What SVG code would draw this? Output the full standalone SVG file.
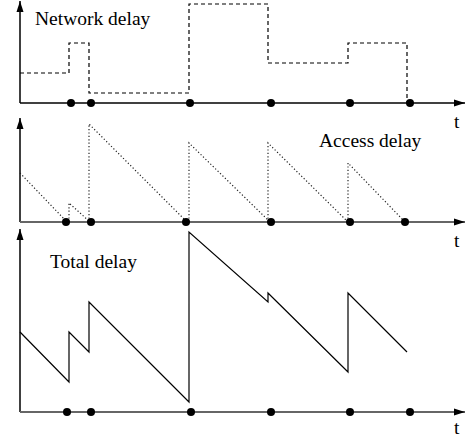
<svg xmlns="http://www.w3.org/2000/svg" width="466" height="438" viewBox="0 0 466 438">
<defs>
<marker id="ah" markerWidth="12" markerHeight="8" refX="11" refY="4" orient="auto" markerUnits="userSpaceOnUse">
<path d="M0,0.5 L11,4 L0,7.5 Z" fill="#000"/>
</marker>
</defs>
<style>
.ax{stroke:#000;stroke-width:1.5;fill:none}
.axg{stroke:#666;stroke-width:2;fill:none}
.dot{fill:#000}
.lbl{font-family:"Liberation Serif","Times New Roman",serif;font-size:19.5px;fill:#000}
.net{stroke:#000;stroke-width:1.2;fill:none;stroke-dasharray:4,3}
.acc{stroke:#222;stroke-width:1.2;fill:none;stroke-dasharray:1.2,2.2}
.tot{stroke:#000;stroke-width:1.2;fill:none}
</style>
<rect width="466" height="438" fill="#fff"/>
<g id="connectors">
<line class="ax" x1="20" y1="103" x2="20" y2="1" marker-end="url(#ah)"/>
<line class="ax" x1="20" y1="103" x2="465" y2="103" marker-end="url(#ah)"/>
<line class="ax" x1="20" y1="222" x2="20" y2="118" marker-end="url(#ah)"/>
<line class="axg" x1="20" y1="222" x2="465" y2="222" marker-end="url(#ah)"/>
<line class="ax" x1="20" y1="412" x2="20" y2="229" marker-end="url(#ah)"/>
<line class="axg" x1="20" y1="412" x2="465" y2="412" marker-end="url(#ah)"/>
</g>
<g id="network-delay">
<path class="net" d="M20,73 H69 V43 H89 V93 H189 V4 H268 V63 H348 V43 H407 V103"/>
<text class="lbl" x="35" y="25">Network delay</text>
<text class="lbl" x="454" y="128">t</text>
<g class="dot">
<circle cx="71" cy="103" r="4"/><circle cx="91" cy="103" r="4"/><circle cx="190" cy="103" r="4"/>
<circle cx="271" cy="103" r="4"/><circle cx="350" cy="103" r="4"/><circle cx="410" cy="103" r="4"/>
</g>
</g>
<g id="access-delay">
<path class="acc" d="M20,173 L67,222 M69,222 V203 L90,222 M89,222 V124 L187,222 M189,222 V143 L270,222 M268,222 V143 L348,222 M348,222 V163 L405,222"/>
<text class="lbl" x="319" y="147">Access delay</text>
<text class="lbl" x="454" y="247">t</text>
<g class="dot">
<circle cx="66" cy="222" r="4"/><circle cx="91" cy="222" r="4"/><circle cx="186" cy="222" r="4"/>
<circle cx="271" cy="222" r="4"/><circle cx="350" cy="222" r="4"/><circle cx="405" cy="222" r="4"/>
</g>
</g>
<g id="total-delay">
<path class="tot" d="M20,332 L69,382 V332 L89,352 V302 L189,402 V232 L268,302 V293 L348,372 V293 L407,352"/>
<text class="lbl" x="50" y="268">Total delay</text>
<text class="lbl" x="454" y="434">t</text>
<g class="dot">
<circle cx="67" cy="412" r="4"/><circle cx="91" cy="412" r="4"/><circle cx="191" cy="412" r="4"/>
<circle cx="271" cy="412" r="4"/><circle cx="350" cy="412" r="4"/><circle cx="410" cy="412" r="4"/>
</g>
</g>
</svg>
